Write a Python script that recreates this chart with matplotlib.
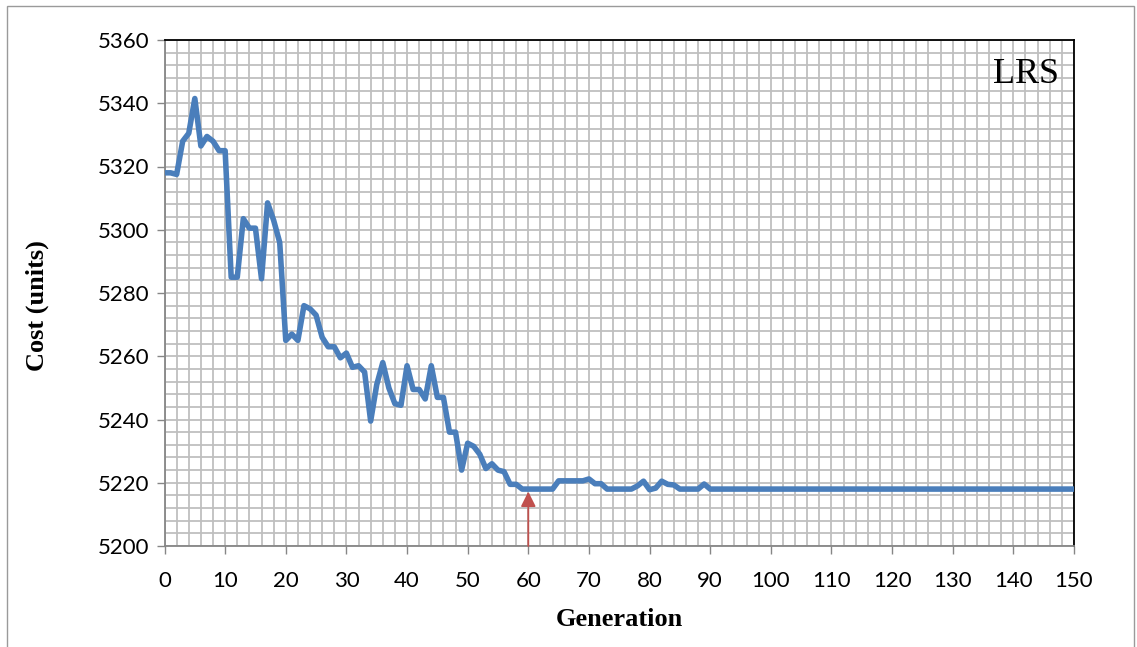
import matplotlib
matplotlib.use("Agg")
import matplotlib.pyplot as plt
from matplotlib.patches import Rectangle
from matplotlib.ticker import MultipleLocator

# cost per generation
generation = list(range(0, 151))
cost_head = [
    5318, 5318, 5317.5, 5328, 5330.5, 5341.5, 5326.5, 5329.5, 5328, 5325,
    5325, 5285, 5285, 5303.5, 5300.5, 5300.5, 5284.5, 5308.5, 5303, 5296,
    5265, 5267, 5265, 5276, 5275, 5273, 5266, 5263, 5263, 5259.5,
    5261, 5256.5, 5257, 5255, 5239.5, 5251, 5258, 5250, 5245, 5244.5,
    5257, 5249.5, 5249.5, 5246.5, 5257, 5247, 5247, 5236, 5236, 5224,
    5232.5, 5231.5, 5229, 5224.5, 5226, 5224, 5223.5, 5219.5, 5219.5, 5218,
    5218, 5218, 5218, 5218, 5218, 5220.6, 5220.6, 5220.6, 5220.6, 5220.6,
    5221.2, 5219.7, 5219.7, 5218, 5218, 5218, 5218, 5218, 5219, 5220.5,
    5217.8, 5218.3, 5220.5, 5219.5, 5219.3, 5218, 5218, 5218, 5218, 5219.6,
]
cost_tail = [5218] * (151 - len(cost_head))
cost = cost_head + cost_tail

best_gen = 60
best_cost = 5218

W, H = 1137, 647
fig = plt.figure(figsize=(W / 100, H / 100), dpi=100)

# thin grey frame round the whole chart
fig.patches.append(Rectangle((7 / W, -0.05), (1134 - 7) / W, 1.05 - 6 / H, transform=fig.transFigure,
                             fill=False, edgecolor="#9a9a9a", linewidth=1.0))

ax = fig.add_axes([164.5 / W, 1 - 546 / H, (1074 - 164.5) / W, (546 - 40) / H])

ax.set_xlim(0, 150)
ax.set_ylim(5200, 5360)
ax.xaxis.set_major_locator(MultipleLocator(10))
ax.xaxis.set_minor_locator(MultipleLocator(2))
ax.yaxis.set_major_locator(MultipleLocator(20))
ax.yaxis.set_minor_locator(MultipleLocator(4))

ax.grid(which="both", color="#bfbfbf", linewidth=1.3)
ax.set_axisbelow(True)

ax.plot(generation, cost, color="#4a7ebb", linewidth=4.0, solid_joinstyle="round",
        solid_capstyle="round", zorder=3)

# arrow marking where the search settles
ax.annotate("", xy=(best_gen, best_cost - 0.8), xytext=(best_gen, 5200),
            arrowprops=dict(arrowstyle="-|>,head_length=0.9,head_width=0.45",
                            color="#c0504d", linewidth=1.3, shrinkA=0, shrinkB=0),
            zorder=4)

ax.text(0.983, 0.965, "LRS", transform=ax.transAxes, ha="right", va="top",
        fontsize=26, family="Liberation Serif")

for side in ["top", "right"]:
    ax.spines[side].set_color("black")
    ax.spines[side].set_linewidth(1.3)
for side in ["left", "bottom"]:
    ax.spines[side].set_color("#868686")
    ax.spines[side].set_linewidth(1.3)

ax.tick_params(which="major", length=6, width=1, color="#868686", labelsize=16)
ax.tick_params(axis="x", which="major", pad=12)
ax.tick_params(axis="y", which="major", pad=5)
ax.tick_params(which="minor", length=0)
for lbl in ax.get_xticklabels() + ax.get_yticklabels():
    lbl.set_family("Lato")

ax.set_xlabel("Generation", family="Liberation Serif", fontweight="bold", fontsize=19)
ax.set_ylabel("Cost (units)", family="Liberation Serif", fontweight="bold", fontsize=19)
ax.xaxis.set_label_coords(0.5, (546 - 608) / 506)
ax.yaxis.set_label_coords((49 - 164.5) / 909.5, 0.476)

fig.savefig("out.png", dpi=100)
